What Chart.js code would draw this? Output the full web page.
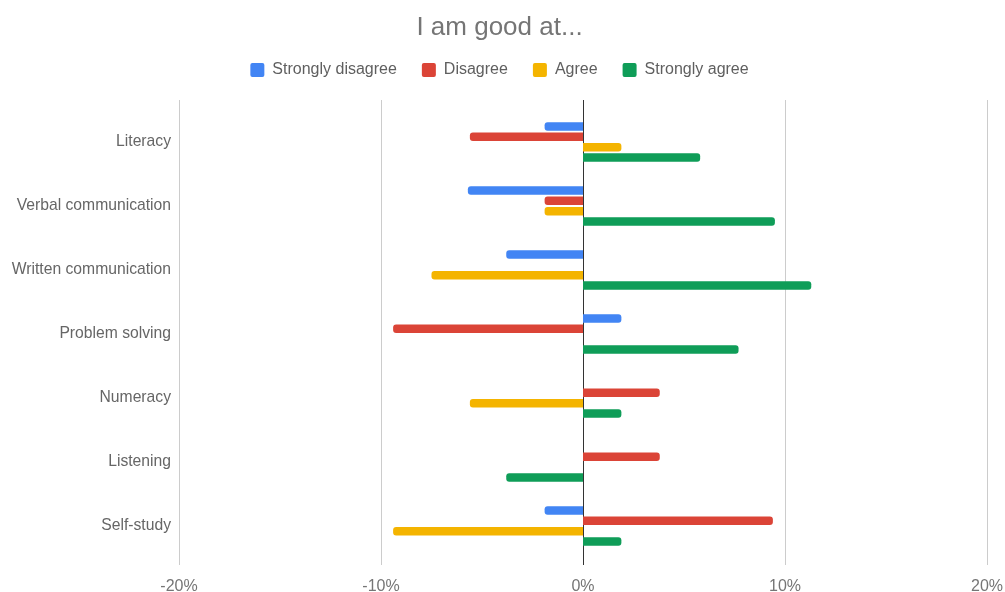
<!DOCTYPE html>
<html>
<head>
<meta charset="utf-8">
<title>I am good at...</title>
<script src="https://cdn.jsdelivr.net/npm/chart.js@4"></script>
<style>
  html, body { margin: 0; padding: 0; background: #fff; }
  #wrap { width: 1005px; height: 592px; position: relative; }
</style>
</head>
<body>
<div id="wrap"><canvas id="skillsChart"></canvas></div>
<script>
const skills = ['Literacy', 'Verbal communication', 'Written communication', 'Problem solving', 'Numeracy', 'Listening', 'Self-study'];

// share of responses in %, negative values plotted left of zero
const stronglyDisagree = [-1.9, -5.7, -3.8, 1.9, 0, 0, -1.9];
const disagree = [-5.6, -1.9, 0, -9.4, 3.8, 3.8, 9.4];
const agree = [1.9, -1.9, -7.5, 0, -5.6, 0, -9.4];
const stronglyAgree = [5.8, 9.5, 11.3, 7.7, 1.9, -3.8, 1.9];

const xTicks = [-20, -10, 0, 10, 20];

const FONT = "'Liberation Sans', Arial, sans-serif";

// vertical grid lines run a bit past the plot area, as in Sheets charts
const gridLines = {
  id: 'gridLines',
  beforeDatasetsDraw(chart) {
    const { ctx, chartArea, scales } = chart;
    ctx.save();
    ctx.lineWidth = 1;
    xTicks.forEach((v) => {
      const x = Math.round(scales.x.getPixelForValue(v)) + 0.5;
      ctx.strokeStyle = v === 0 ? '#333333' : '#cccccc';
      ctx.beginPath();
      ctx.moveTo(x, chartArea.top - 10);
      ctx.lineTo(x, chartArea.bottom + 7);
      ctx.stroke();
    });
    ctx.restore();
  }
};

// extra room between legend and plot
const legendGap = {
  id: 'legendGap',
  beforeInit(chart) {
    const fit = chart.legend.fit;
    chart.legend.fit = function () {
      fit.call(this);
      this.height += 22;
    };
  }
};

const makeSet = (label, data, color) => ({
  label,
  data,
  backgroundColor: color,
  borderRadius: 3,
  borderSkipped: 'start',
  categoryPercentage: 0.65,
  barPercentage: 0.82
});

new Chart(document.getElementById('skillsChart'), {
  type: 'bar',
  data: {
    labels: skills,
    datasets: [
      makeSet('Strongly disagree', stronglyDisagree, '#4285f4'),
      makeSet('Disagree', disagree, '#db4437'),
      makeSet('Agree', agree, '#f4b400'),
      makeSet('Strongly agree', stronglyAgree, '#0f9d58')
    ]
  },
  options: {
    indexAxis: 'y',
    responsive: true,
    maintainAspectRatio: false,
    animation: false,
    layout: { padding: { left: 0, right: 6, top: 0, bottom: 0 } },
    scales: {
      x: {
        min: -20,
        max: 20,
        afterBuildTicks: (scale) => { scale.ticks = xTicks.map((v) => ({ value: v })); },
        afterFit: (scale) => {
          scale.height = 34;
          scale.paddingLeft = 0;
          scale.paddingRight = 18;
        },
        grid: { display: false, drawTicks: false },
        border: { display: false },
        ticks: {
          padding: 19,
          color: '#757575',
          font: { family: FONT, size: 16 },
          callback: (v) => v + '%'
        }
      },
      y: {
        afterFit: (scale) => { scale.width = 179; },
        grid: { display: false, drawTicks: false },
        border: { display: false },
        ticks: {
          padding: 8,
          color: '#666666',
          font: { family: FONT, size: 15.7 }
        }
      }
    },
    plugins: {
      title: {
        display: true,
        text: 'I am good at...',
        color: '#757575',
        font: { family: FONT, size: 26, weight: 'normal' },
        padding: { top: 12.5, bottom: -6.7 }
      },
      legend: {
        position: 'top',
        labels: {
          boxWidth: 14,
          boxHeight: 14,
          useBorderRadius: true,
          borderRadius: 2,
          padding: 25,
          color: '#5f5f5f',
          font: { family: FONT, size: 16 }
        }
      },
      tooltip: { enabled: false }
    }
  },
  plugins: [gridLines, legendGap]
});
</script>
</body>
</html>
